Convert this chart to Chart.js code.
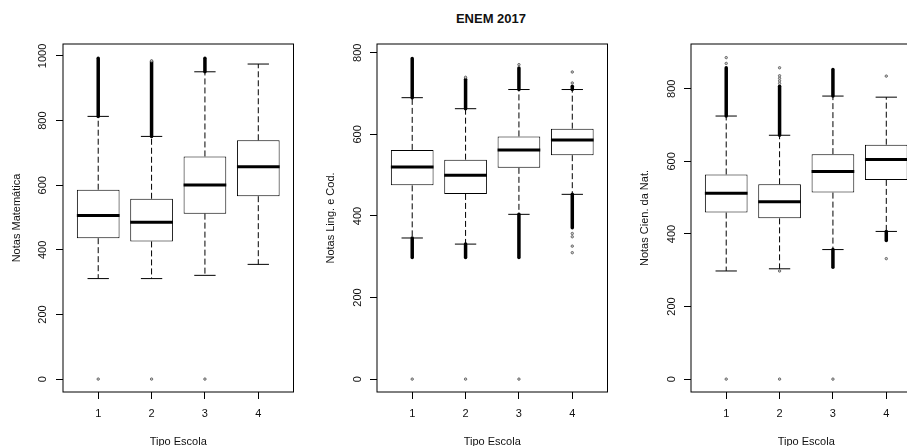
<!DOCTYPE html>
<html>
<head>
<meta charset="utf-8">
<script src="https://cdn.jsdelivr.net/npm/chart.js@4"></script>
<style>
  body { margin: 0; background: #fff; overflow: hidden; }
  #wrap { position: relative; width: 907px; height: 446px; overflow: hidden; }
  #wrap canvas { position: absolute; top: 0; }
  .titulo {
    position: absolute; left: 391px; top: 12px; width: 200px;
    text-align: center; font: bold 13px 'Liberation Sans', Arial, sans-serif;
    line-height: 13px; color: #111;
  }
</style>
</head>
<body>
<div id="wrap">
  <div class="titulo">ENEM 2017</div>
  <canvas id="mat" width="314" height="446" style="left:0px"></canvas>
  <canvas id="ling" width="314" height="446" style="left:314px"></canvas>
  <canvas id="cien" width="314" height="446" style="left:628px"></canvas>
</div>
<script>
// tipos de escola (eixo x)
const escolas = [1, 2, 3, 4];

// Notas Matemática
const matQ1 = [436, 426, 512, 566];
const matMed = [506, 485, 601, 657];
const matQ3 = [586, 558, 689, 739];
const matLo = [311, 311, 321, 355];
const matHi = [813, 751, 951, 975];
const matRunHi = [[813, 993], [751, 983], [951, 993], null];
const matRunLo = [null, null, null, null];
const matOut = [[0], [0, 985], [0], []];
const matTicks = [0, 200, 400, 600, 800, 1000];

// Notas Ling. e Cod.
const lingQ1 = [475, 454, 518, 549];
const lingMed = [520, 500, 562, 586];
const lingQ3 = [562, 538, 595, 614];
const lingLo = [346, 331, 404, 453];
const lingHi = [690, 663, 710, 710];
const lingRunHi = [[690, 786], [663, 735], [710, 763], [710, 718]];
const lingRunLo = [[298, 346], [298, 331], [298, 404], [371, 453]];
const lingOut = [[0], [0, 740], [0, 771], [726, 753, 357, 349, 326, 310]];
const lingTicks = [0, 200, 400, 600, 800];

// Notas Cien. da Nat.
const cienQ1 = [459, 443, 514, 549];
const cienMed = [512, 489, 572, 605];
const cienQ3 = [564, 537, 620, 646];
const cienLo = [298, 304, 357, 407];
const cienHi = [725, 672, 780, 777];
const cienRunHi = [[725, 858], [672, 807], [780, 853], null];
const cienRunLo = [null, null, [308, 357], [382, 407]];
const cienOut = [[0, 870, 886], [0, 298, 815, 822, 829, 836, 858], [0], [835, 332]];
const cienTicks = [0, 200, 400, 600, 800];

Chart.defaults.font.family = "'Liberation Sans', Arial, sans-serif";
Chart.defaults.font.size = 11;
Chart.defaults.color = '#111';

function boxExtras(p) {
    function seg(ctx, x1, y1, x2, y2) {
        ctx.beginPath();
        ctx.moveTo(x1, y1);
        ctx.lineTo(x2, y2);
        ctx.stroke();
    }
    return {
        id: 'boxExtras',
        beforeDatasetsDraw(chart) {
            const { ctx, scales: { x, y } } = chart;
            ctx.save();
            ctx.strokeStyle = '#000';
            escolas.forEach((e, i) => {
                const cx = x.getPixelForValue(e);
                // bigodes tracejados
                ctx.lineWidth = 1;
                ctx.setLineDash([6, 3]);
                seg(ctx, cx, y.getPixelForValue(p.q3[i]), cx, y.getPixelForValue(p.hi[i]));
                seg(ctx, cx, y.getPixelForValue(p.q1[i]), cx, y.getPixelForValue(p.lo[i]));
                ctx.setLineDash([]);
                // outliers densos
                ctx.lineWidth = 3.5;
                ctx.lineCap = 'round';
                [p.runHi[i], p.runLo[i]].forEach(r => {
                    if (r) seg(ctx, cx, y.getPixelForValue(r[0]), cx, y.getPixelForValue(r[1]));
                });
                ctx.lineCap = 'butt';
                // hastes
                ctx.lineWidth = 1;
                const l = x.getPixelForValue(e - 0.2), r = x.getPixelForValue(e + 0.2);
                seg(ctx, l, y.getPixelForValue(p.hi[i]), r, y.getPixelForValue(p.hi[i]));
                seg(ctx, l, y.getPixelForValue(p.lo[i]), r, y.getPixelForValue(p.lo[i]));
            });
            ctx.restore();
        },
        afterDatasetsDraw(chart) {
            const { ctx, chartArea: a, scales: { x, y } } = chart;
            ctx.save();
            ctx.strokeStyle = '#000';
            ctx.lineWidth = 3;
            escolas.forEach((e, i) => {
                const my = y.getPixelForValue(p.med[i]);
                seg(ctx, x.getPixelForValue(e - 0.4), my, x.getPixelForValue(e + 0.4), my);
            });
            ctx.lineWidth = 1;
            ctx.strokeRect(a.left, a.top, a.right - a.left, a.bottom - a.top);
            ctx.restore();
        }
    };
}

function makePanel(id, p) {
    const ctx = document.getElementById(id).getContext('2d');
    const pontos = [];
    p.out.forEach((vals, i) => vals.forEach(v => pontos.push({ x: escolas[i], y: v })));

    return new Chart(ctx, {
        type: 'bar',
        data: {
            datasets: [
                {
                    data: escolas.map((e, i) => ({ x: e, y: [p.q1[i], p.q3[i]] })),
                    backgroundColor: '#fff',
                    borderColor: '#000',
                    borderWidth: 1,
                    borderSkipped: false,
                    barPercentage: 0.8,
                    categoryPercentage: 1
                },
                {
                    type: 'scatter',
                    data: pontos,
                    pointStyle: 'circle',
                    pointRadius: 1.2,
                    borderWidth: 1,
                    borderColor: '#666',
                    backgroundColor: '#ccc'
                }
            ]
        },
        options: {
            responsive: false,
            animation: false,
            layout: { padding: { top: 44, right: 20.5, bottom: 0, left: 0 } },
            plugins: { legend: { display: false }, tooltip: { enabled: false } },
            scales: {
                x: {
                    type: 'linear',
                    min: 0.34,
                    max: 4.66,
                    offset: false,
                    afterBuildTicks: s => { s.ticks = escolas.map(v => ({ value: v })); },
                    afterFit: s => { s.height = 54; },
                    grid: { display: true, drawOnChartArea: false, offset: false, tickLength: 7, color: '#000' },
                    border: { display: false },
                    ticks: { padding: 8, callback: v => String(v) },
                    title: {
                        display: true,
                        text: 'Tipo Escola',
                        font: { size: 11, lineHeight: 1 },
                        padding: { top: 0, bottom: -1 }
                    }
                },
                y: {
                    min: p.min,
                    max: p.max,
                    afterBuildTicks: s => { s.ticks = p.ticks.map(v => ({ value: v })); },
                    afterFit: s => { s.width = 63; },
                    grid: { display: true, drawOnChartArea: false, tickLength: 7, color: '#000' },
                    border: { display: false },
                    ticks: {
                        minRotation: 90, maxRotation: 90, crossAlign: 'center',
                        padding: p.tickPad, callback: v => String(v)
                    },
                    title: {
                        display: true,
                        text: p.label,
                        font: { size: 11, lineHeight: 1 },
                        padding: { top: 11.5, bottom: 0 }
                    }
                }
            }
        },
        plugins: [boxExtras(p)]
    });
}

makePanel('mat', {
    label: 'Notas Matemática', min: -40, max: 1037, ticks: matTicks, tickPad: 0.5,
    q1: matQ1, med: matMed, q3: matQ3, lo: matLo, hi: matHi,
    runHi: matRunHi, runLo: matRunLo, out: matOut
});
makePanel('ling', {
    label: 'Notas Ling. e Cod.', min: -31.6, max: 821.6, ticks: lingTicks, tickPad: 2.5,
    q1: lingQ1, med: lingMed, q3: lingQ3, lo: lingLo, hi: lingHi,
    runHi: lingRunHi, runLo: lingRunLo, out: lingOut
});
makePanel('cien', {
    label: 'Notas Cien. da Nat.', min: -35.5, max: 923.5, ticks: cienTicks, tickPad: 3,
    q1: cienQ1, med: cienMed, q3: cienQ3, lo: cienLo, hi: cienHi,
    runHi: cienRunHi, runLo: cienRunLo, out: cienOut
});
</script>
</body>
</html>
